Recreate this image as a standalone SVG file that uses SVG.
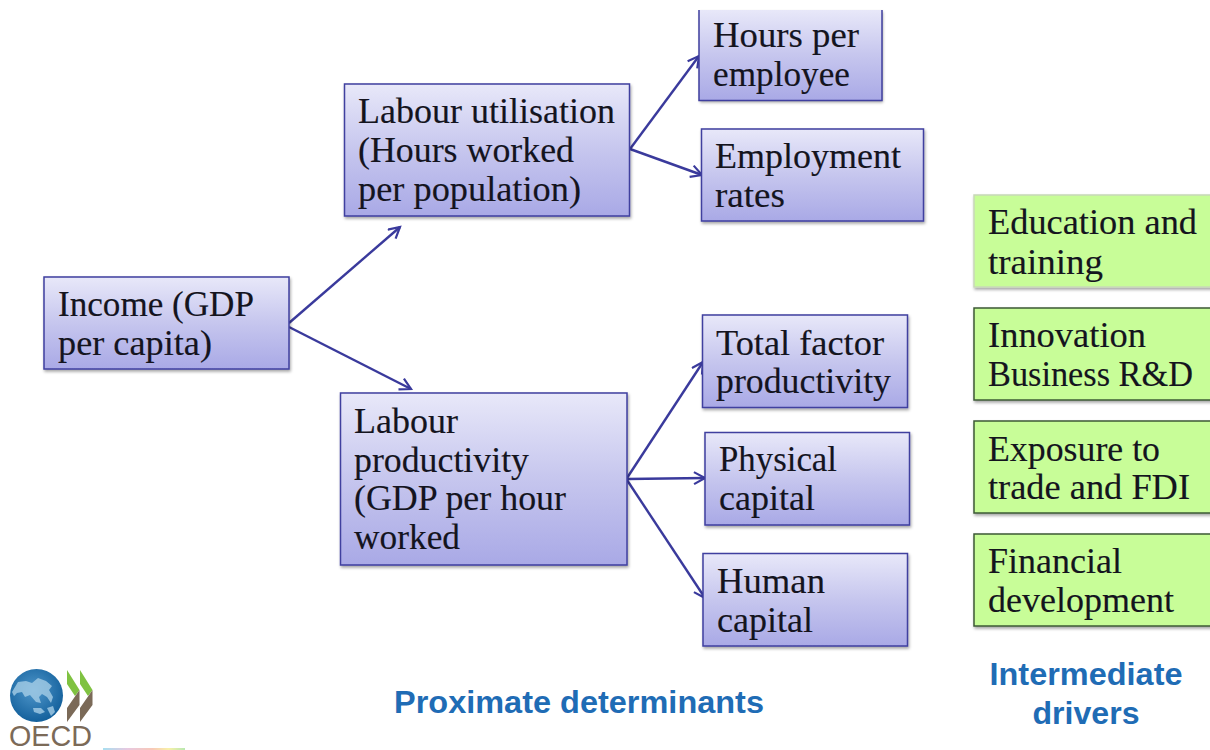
<svg xmlns="http://www.w3.org/2000/svg" width="1210" height="750" viewBox="0 0 1210 750">
<style>
.b{fill:url(#blue);stroke:#3f3f9f;stroke-width:1.5;filter:url(#sh)}
.g{fill:#c8fd98;stroke:#3c5a34;stroke-width:1.5;filter:url(#sh)}
.t{font-family:"Liberation Serif",serif;font-size:36px;fill:#14141e;stroke:#14141e;stroke-width:.15;transform:translateY(1px)}
.h{font-family:"Liberation Sans",Arial,sans-serif;font-size:32px;font-weight:bold;fill:#1f6cb5;text-anchor:middle}
.c{fill:none;stroke:#3a3a9c;stroke-width:2.4;marker-end:url(#a)}
</style>
<defs>
<linearGradient id="blue" x1="0" y1="0" x2="0" y2="1"><stop offset="0" stop-color="#e8e8f9"/><stop offset=".5" stop-color="#c6c6ee"/><stop offset="1" stop-color="#a9a9e6"/></linearGradient>
<radialGradient id="globe" cx=".45" cy=".4" r=".65"><stop offset="0" stop-color="#4f97cb"/><stop offset="1" stop-color="#0f5c98"/></radialGradient>
<linearGradient id="strip"><stop offset="0" stop-color="#a8dff0"/><stop offset=".3" stop-color="#e8c8e0"/><stop offset=".6" stop-color="#f8c8b8"/><stop offset=".8" stop-color="#f8f0a8"/><stop offset="1" stop-color="#b8e8b0"/></linearGradient>
<filter id="sh" x="-5%" y="-5%" width="110%" height="115%"><feDropShadow dx="1" dy="2" stdDeviation="1.5" flood-color="#000" flood-opacity=".35"/></filter>
<marker id="a" markerUnits="userSpaceOnUse" markerWidth="20" markerHeight="20" refX="12" refY="7" orient="auto"><path d="M1 1L12 7L1 13" fill="none" stroke="#3a3a9c" stroke-width="2.2"/></marker>
</defs>
<rect width="1210" height="750" fill="#fff"/>
<g id="connectors">
<path class="c" d="M289 323L400 227"/>
<path class="c" d="M289 327L411 389"/>
<path class="c" d="M630 149L699 56"/>
<path class="c" d="M630 149L702 175"/>
<path class="c" d="M627 478L703 362"/>
<path class="c" d="M627 479L705 478"/>
<path class="c" d="M627 480L705 598"/>
</g>
<g id="income"><rect class="b" x="44" y="277" width="245" height="92"/><text class="t" lengthAdjust="spacingAndGlyphs" x="58" y="315" textLength="196">Income (GDP</text><text class="t" lengthAdjust="spacingAndGlyphs" x="58" y="354" textLength="154">per capita)</text></g>
<g id="labour-utilisation"><rect class="b" x="344.500" y="84" width="285" height="132"/><text class="t" lengthAdjust="spacingAndGlyphs" x="358" y="122" textLength="257">Labour utilisation</text><text class="t" lengthAdjust="spacingAndGlyphs" x="358" y="161" textLength="216">(Hours worked</text><text class="t" lengthAdjust="spacingAndGlyphs" x="358" y="200" textLength="223">per population)</text></g>
<g id="labour-productivity"><rect class="b" x="340.500" y="393" width="286.500" height="172"/><text class="t" lengthAdjust="spacingAndGlyphs" x="354" y="432" textLength="104">Labour</text><text class="t" lengthAdjust="spacingAndGlyphs" x="354" y="471" textLength="175">productivity</text><text class="t" lengthAdjust="spacingAndGlyphs" x="354" y="509" textLength="212">(GDP per hour</text><text class="t" lengthAdjust="spacingAndGlyphs" x="354" y="548" textLength="106">worked</text></g>
<g id="hours-per-employee"><rect x="699" y="10" width="183" height="90.500" fill="url(#blue)" filter="url(#sh)"/><path d="M699 10V100.500H882V10" fill="none" stroke="#3f3f9f" stroke-width="1.5"/><text class="t" lengthAdjust="spacingAndGlyphs" x="713" y="46" textLength="146">Hours per</text><text class="t" lengthAdjust="spacingAndGlyphs" x="713" y="85" textLength="137">employee</text></g>
<g id="employment-rates"><rect class="b" x="701.500" y="129" width="222" height="92"/><text class="t" lengthAdjust="spacingAndGlyphs" x="715" y="167" textLength="186">Employment</text><text class="t" lengthAdjust="spacingAndGlyphs" x="715" y="206" textLength="70">rates</text></g>
<g id="total-factor-productivity"><rect class="b" x="702.500" y="315" width="205" height="92.500"/><text class="t" lengthAdjust="spacingAndGlyphs" x="716" y="354" textLength="168">Total factor</text><text class="t" lengthAdjust="spacingAndGlyphs" x="716" y="392" textLength="175">productivity</text></g>
<g id="physical-capital"><rect class="b" x="705" y="432.500" width="204.500" height="92.500"/><text class="t" lengthAdjust="spacingAndGlyphs" x="719" y="470" textLength="118">Physical</text><text class="t" lengthAdjust="spacingAndGlyphs" x="719" y="509" textLength="96">capital</text></g>
<g id="human-capital"><rect class="b" x="703" y="553.500" width="204.500" height="92.500"/><text class="t" lengthAdjust="spacingAndGlyphs" x="717" y="592" textLength="108">Human</text><text class="t" lengthAdjust="spacingAndGlyphs" x="717" y="631" textLength="96">capital</text></g>
<g id="education"><rect class="g" style="stroke:#c8d8b8" x="974" y="195" width="240" height="92"/><text class="t" lengthAdjust="spacingAndGlyphs" x="988" y="233" textLength="209">Education and</text><text class="t" lengthAdjust="spacingAndGlyphs" x="988" y="273" textLength="115">training</text></g>
<g id="innovation"><rect class="g" x="974" y="308" width="240" height="92"/><text class="t" lengthAdjust="spacingAndGlyphs" x="988" y="346" textLength="158">Innovation</text><text class="t" lengthAdjust="spacingAndGlyphs" x="988" y="385" textLength="205">Business R&amp;D</text></g>
<g id="exposure"><rect class="g" x="974" y="421" width="240" height="92"/><text class="t" lengthAdjust="spacingAndGlyphs" x="988" y="460" textLength="172">Exposure to</text><text class="t" lengthAdjust="spacingAndGlyphs" x="988" y="498" textLength="202">trade and FDI</text></g>
<g id="financial"><rect class="g" x="974" y="534" width="240" height="92"/><text class="t" lengthAdjust="spacingAndGlyphs" x="988" y="572" textLength="134">Financial</text><text class="t" lengthAdjust="spacingAndGlyphs" x="988" y="611" textLength="186">development</text></g>
<text class="h" lengthAdjust="spacingAndGlyphs" x="579" y="713" textLength="370">Proximate determinants</text>
<text class="h" lengthAdjust="spacingAndGlyphs" x="1086" y="685" textLength="193">Intermediate</text>
<text class="h" lengthAdjust="spacingAndGlyphs" x="1086" y="724" textLength="107">drivers</text>
<g id="logo">
<circle cx="36.500" cy="695.500" r="26.500" fill="url(#globe)"/>
<path d="M12 692l6-10 8-1 6 2 6-5 8 3 6 5-3 4 4 7-2 6-4-6-5-3-3 3 2 6-5-1-6-7-5 2-3-5-5 1-3 3z" fill="#a5cde6" opacity=".8"/>
<path d="M33 708l8 0 4 4-5 2-6-2zM47 708l6-2 2 6-4 4z" fill="#a5cde6" opacity=".8"/>
<path d="M67 670L79.500 690L75 696L67 684ZM80 670L92.500 690L88 696L80 684Z" fill="#7fc241"/>
<path d="M79.500 690V705L67 722V708ZM92.500 690V705L80 722V708Z" fill="#7b6a58"/>
<text x="50.500" y="746" font-family="Liberation Sans,Arial,sans-serif" font-size="29" fill="#7b6a58" text-anchor="middle" textLength="83" lengthAdjust="spacingAndGlyphs">OECD</text>
</g>
<rect x="103" y="748" width="82" height="2" fill="url(#strip)"/>
</svg>
